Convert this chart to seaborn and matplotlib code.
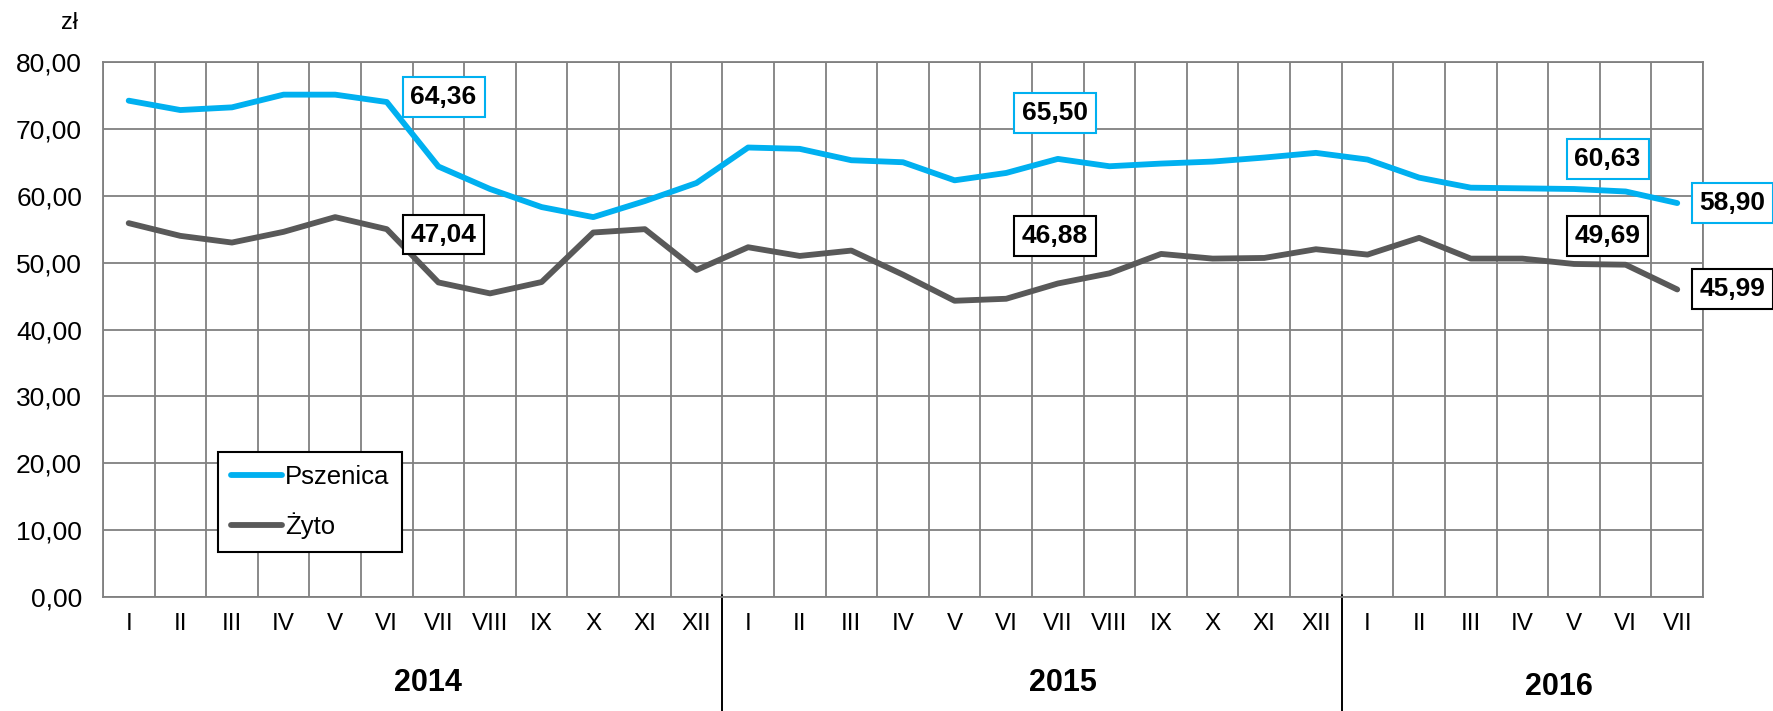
import numpy as np
import pandas as pd
import seaborn as sns
import matplotlib.pyplot as plt
from matplotlib.transforms import blended_transform_factory

# monthly prices, Jan 2014 - Jul 2016 (zł)
months = ["I", "II", "III", "IV", "V", "VI", "VII", "VIII", "IX", "X", "XI", "XII",
          "I", "II", "III", "IV", "V", "VI", "VII", "VIII", "IX", "X", "XI", "XII",
          "I", "II", "III", "IV", "V", "VI", "VII"]
years = ["2014", "2015", "2016"]
pszenica = [74.2, 72.8, 73.2, 75.1, 75.1, 74.0, 64.36, 61.0, 58.3, 56.8, 59.2, 61.9,
            67.2, 67.0, 65.3, 65.0, 62.3, 63.4, 65.50, 64.4, 64.8, 65.1, 65.7, 66.4,
            65.4, 62.7, 61.2, 61.1, 61.0, 60.63, 58.90]
zyto = [55.9, 54.0, 53.0, 54.6, 56.8, 55.0, 47.04, 45.4, 47.1, 54.5, 55.0, 48.9,
        52.3, 51.0, 51.8, 48.2, 44.3, 44.6, 46.88, 48.4, 51.3, 50.6, 50.7, 52.0,
        51.2, 53.7, 50.6, 50.6, 49.8, 49.69, 45.99]
series_names = ["Pszenica", "Żyto"]
colors = ["#00B0F0", "#595959"]

df = pd.DataFrame({
    "idx": list(range(len(months))) * 2,
    "value": pszenica + zyto,
    "series": [series_names[0]] * len(pszenica) + [series_names[1]] * len(zyto),
})

sns.set_style("white")
plt.rcParams["font.family"] = ["Liberation Sans", "DejaVu Sans"]
plt.rcParams["text.color"] = "black"
plt.rcParams["xtick.labelcolor"] = "black"
plt.rcParams["ytick.labelcolor"] = "black"

fig = plt.figure(figsize=(17.74, 7.11), dpi=100)
ax = fig.add_axes([0.058, 0.160, 0.902, 0.753])

sns.lineplot(data=df, x="idx", y="value", hue="series", palette=colors,
             linewidth=4.2, ax=ax, zorder=3)

n = len(months)
ax.set_xlim(-0.5, n - 0.5)
ax.set_ylim(0, 80)

# gridlines on cell boundaries, labels in the cell centres
ax.set_xticks(np.arange(-0.5, n, 1.0))
ax.set_xticklabels([])
ax.set_xticks(np.arange(n), minor=True)
ax.set_xticklabels(months, minor=True, fontsize=17.5)
ax.tick_params(axis="x", which="major", length=6, width=1.2, color="#808080", direction="out")
ax.tick_params(axis="x", which="minor", length=0, pad=11)
ax.set_yticks(np.arange(0, 81, 10))
ax.set_yticklabels([f"{v:.2f}".replace(".", ",") for v in np.arange(0, 81, 10)], fontsize=19)
ax.tick_params(axis="y", length=6, width=1.2, color="#808080", pad=9)
ax.grid(True, which="major", color="#808080", linewidth=1.3)
for s in ax.spines.values():
    s.set_color("#808080")
    s.set_linewidth(1.3)
ax.set_xlabel("")
ax.set_ylabel("")

# year groups
trans = blended_transform_factory(ax.transData, ax.transAxes)
for b in [11.5, 23.5]:
    ax.plot([b, b], [0.005, -0.22], transform=trans, color="black", lw=1.4, clip_on=False)
year_x = [6.3, 18.6, 28.2]
year_y = [-0.16, -0.16, -0.168]
for yx, yy, yl in zip(year_x, year_y, years):
    ax.text(yx - 0.5, yy, yl, transform=trans, ha="center", va="center",
            fontsize=22, fontweight="bold")

fig.text(0.039, 0.967, "zł", fontsize=17, ha="center", va="center")

# value boxes
def fmt(v):
    return f"{v:.2f}".replace(".", ",")

label_idx = [6, 18, 29, 30]
label_x = [6.1, 17.95, 28.65, 31.07]
psz_y = [74.7, 72.3, 65.5, 58.9]
zyt_y = [54.2, 54.0, 54.0, 46.0]
for i, lx, py, zy in zip(label_idx, label_x, psz_y, zyt_y):
    ax.text(lx, py, fmt(pszenica[i]), ha="center", va="center", fontsize=19,
            fontweight="bold", clip_on=False, zorder=5,
            bbox=dict(boxstyle="square,pad=0.3", fc="white", ec=colors[0], lw=1.5))
    ax.text(lx, zy, fmt(zyto[i]), ha="center", va="center", fontsize=19,
            fontweight="bold", clip_on=False, zorder=5,
            bbox=dict(boxstyle="square,pad=0.3", fc="white", ec="black", lw=1.5))

leg = ax.legend(loc="lower left", bbox_to_anchor=(0.072, 0.085), fontsize=18.5,
                frameon=True, fancybox=False, framealpha=1, edgecolor="black",
                handlelength=2.0, handletextpad=0.1, labelspacing=0.9,
                borderpad=0.5, borderaxespad=0)
leg.get_frame().set_linewidth(1.5)
leg.set_zorder(6)

fig.savefig("out.png", dpi=100)
